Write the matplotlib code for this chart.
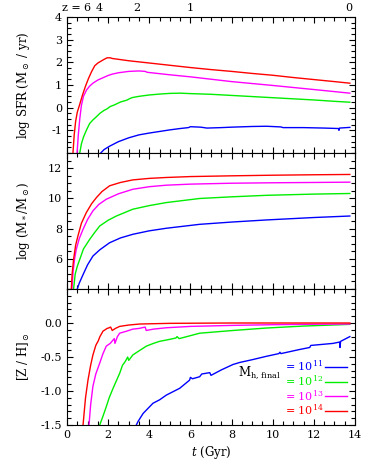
import matplotlib
matplotlib.use("Agg")
import matplotlib.pyplot as plt
from matplotlib.ticker import MultipleLocator
from matplotlib.lines import Line2D

plt.rcParams['font.family'] = ['DejaVu Serif']
plt.rcParams['mathtext.fontset'] = 'dejavuserif'
plt.rcParams['font.size'] = 8

# ---------------- data ----------------
halo_labels = ["11", "12", "13", "14"]
colors = ["#0000ff", "#00ee00", "#ff00ff", "#ff0000"]

# log SFR
sfr_t = {
    "11": [1.64, 1.8, 2.07, 2.5, 3.0, 3.5, 4.0, 4.5, 5.0, 5.5, 5.9, 6.0, 6.5, 6.8, 7.5, 8.0, 9.0, 9.7, 10.4, 10.5, 11.5, 12.5, 13.2, 13.22, 13.25, 13.75],
    "12": [0.62, 0.7, 0.8, 0.94, 1.1, 1.25, 1.43, 1.6, 1.8, 1.95, 2.1, 2.3, 2.6, 2.9, 3.1, 3.2, 3.5, 4.0, 4.5, 5.0, 5.5, 6, 7, 8, 9, 10, 11, 12, 13, 13.75],
    "13": [0.49, 0.55, 0.62, 0.7, 0.8, 0.95, 1.1, 1.26, 1.5, 1.75, 2.0, 2.2, 2.5, 3.0, 3.5, 3.8, 3.9, 5, 6, 8, 10, 12, 13.75],
    "14": [0.29, 0.35, 0.42, 0.5, 0.62, 0.75, 0.9, 1.05, 1.2, 1.35, 1.5, 1.65, 1.8, 1.95, 2.1, 2.2, 3, 4, 5, 6, 7, 8, 9, 10, 11, 12, 13, 13.75],
}
sfr_v = {
    "11": [-2.0, -1.85, -1.7, -1.5, -1.33, -1.2, -1.12, -1.05, -0.98, -0.92, -0.88, -0.84, -0.86, -0.9, -0.88, -0.86, -0.83, -0.82, -0.85, -0.88, -0.88, -0.9, -0.92, -1.0, -0.9, -0.87],
    "12": [-2.0, -1.6, -1.3, -1.0, -0.7, -0.55, -0.4, -0.25, -0.12, -0.05, 0.05, 0.12, 0.25, 0.33, 0.42, 0.45, 0.5, 0.56, 0.6, 0.63, 0.64, 0.62, 0.59, 0.54, 0.49, 0.44, 0.39, 0.34, 0.28, 0.24],
    "13": [-2.0, -1.2, -0.5, 0.1, 0.5, 0.78, 0.95, 1.08, 1.22, 1.32, 1.42, 1.48, 1.54, 1.6, 1.62, 1.6, 1.56, 1.45, 1.36, 1.15, 0.98, 0.8, 0.64],
    "14": [-2.0, -1.2, -0.6, -0.2, 0.15, 0.55, 0.95, 1.3, 1.6, 1.85, 1.97, 2.05, 2.13, 2.2, 2.2, 2.17, 2.07, 1.97, 1.87, 1.77, 1.68, 1.6, 1.51, 1.43, 1.33, 1.24, 1.15, 1.08],
}

# log stellar mass
ms_t = {
    "11": [0.5, 0.6, 0.78, 1.0, 1.26, 1.6, 2.07, 2.6, 3.2, 4.0, 4.83, 6.45, 8, 9.7, 12, 13.75],
    "12": [0.32, 0.4, 0.5, 0.62, 0.8, 1.1, 1.35, 1.59, 2.0, 2.4, 3.2, 4.0, 4.83, 6.45, 8, 9.7, 12, 13.75],
    "13": [0.24, 0.3, 0.37, 0.45, 0.6, 0.78, 1.0, 1.26, 1.55, 1.91, 2.5, 3.2, 4.0, 4.83, 6, 8, 10, 12, 13.75],
    "14": [0.21, 0.25, 0.32, 0.42, 0.53, 0.7, 0.94, 1.2, 1.43, 1.7, 2.07, 2.6, 3.2, 4.0, 4.83, 6, 8, 10, 12, 13.75],
}
ms_v = {
    "11": [4.0, 4.4, 4.95, 5.6, 6.18, 6.6, 7.06, 7.38, 7.62, 7.85, 8.02, 8.28, 8.43, 8.57, 8.73, 8.83],
    "12": [4.0, 5.0, 5.5, 5.96, 6.65, 7.28, 7.75, 8.17, 8.55, 8.83, 9.28, 9.52, 9.72, 9.99, 10.1, 10.2, 10.28, 10.32],
    "13": [4.0, 5.2, 6.0, 6.62, 7.35, 7.95, 8.6, 9.17, 9.6, 9.94, 10.3, 10.6, 10.77, 10.87, 10.94, 11.0, 11.03, 11.05, 11.07],
    "14": [4.0, 5.0, 5.96, 6.9, 7.5, 8.35, 9.06, 9.65, 10.05, 10.45, 10.83, 11.05, 11.22, 11.32, 11.38, 11.44, 11.49, 11.53, 11.56, 11.58],
}

# [Z/H]
zh_t = {
    "11": [3.37, 3.45, 3.7, 4.18, 4.5, 4.83, 5.48, 5.8, 5.96, 6.0, 6.1, 6.45, 6.55, 6.94, 7.0, 7.5, 8.07, 8.4, 9.0, 9.69, 10.3, 10.35, 10.4, 11.3, 11.8, 11.85, 12.93, 13.25, 13.27, 13.3, 13.75],
    "12": [1.59, 1.75, 1.91, 2.05, 2.24, 2.4, 2.56, 2.7, 2.8, 2.88, 2.95, 3.0, 3.2, 3.5, 3.86, 4.2, 4.5, 5.0, 5.3, 5.35, 5.45, 6.45, 8.07, 9.69, 11.5, 13.75],
    "13": [1.07, 1.15, 1.26, 1.4, 1.59, 1.75, 1.91, 2.1, 2.24, 2.3, 2.33, 2.45, 2.56, 2.9, 3.2, 3.5, 3.8, 3.85, 4.2, 4.83, 6, 8.07, 10, 12, 13.75],
    "14": [0.78, 0.9, 1.02, 1.15, 1.26, 1.4, 1.45, 1.51, 1.6, 1.75, 1.85, 1.95, 2.05, 2.12, 2.2, 2.35, 2.56, 3.0, 3.53, 5, 8, 13.75],
}
zh_v = {
    "11": [-1.5, -1.45, -1.33, -1.18, -1.13, -1.06, -0.96, -0.88, -0.84, -0.8, -0.82, -0.79, -0.75, -0.73, -0.77, -0.69, -0.61, -0.58, -0.54, -0.49, -0.45, -0.43, -0.45, -0.39, -0.36, -0.33, -0.3, -0.28, -0.36, -0.27, -0.2],
    "12": [-1.5, -1.37, -1.23, -1.1, -0.96, -0.85, -0.74, -0.62, -0.58, -0.54, -0.5, -0.55, -0.47, -0.41, -0.34, -0.3, -0.27, -0.24, -0.22, -0.2, -0.23, -0.15, -0.11, -0.074, -0.045, -0.02],
    "13": [-1.5, -1.2, -0.93, -0.75, -0.59, -0.45, -0.34, -0.3, -0.25, -0.23, -0.3, -0.2, -0.15, -0.12, -0.09, -0.08, -0.06, -0.11, -0.09, -0.07, -0.05, -0.035, -0.025, -0.018, -0.015],
    "14": [-1.5, -1.1, -0.84, -0.62, -0.47, -0.33, -0.3, -0.27, -0.2, -0.12, -0.1, -0.08, -0.07, -0.06, -0.11, -0.08, -0.05, -0.03, -0.015, -0.005, 0.0, 0.0],
}

z_labels = ["6", "4", "2", "1", "0"]
z_times = [0.96, 1.56, 3.39, 6.0, 13.7]

# ---------------- figure ----------------
fig = plt.figure(figsize=(3.74, 4.67), dpi=100)
L, R = 67 / 374, 355 / 374
top = 1 - 17 / 467
h = 136 / 467
axes = [fig.add_axes([L, top - (i + 1) * h, R - L, h]) for i in range(3)]

datasets = [(sfr_t, sfr_v), (ms_t, ms_v), (zh_t, zh_v)]
ylims = [(-2, 4), (4, 13), (-1.5, 0.5)]
ymaj = [1, 2, 0.5]
ymin = [0.25, 0.5, 0.1]
ylabels = [r"log SFR (M$_\odot$ / yr)", r"log (M$_*$/M$_\odot$)", r"[Z / H]$_\odot$"]

for ax, (dt, dv), yl, ma, mi, lab in zip(axes, datasets, ylims, ymaj, ymin, ylabels):
    for key, c in zip(halo_labels, colors):
        ax.plot(dt[key], dv[key], color=c, lw=1.0)
    ax.set_xlim(0, 14)
    ax.set_ylim(*yl)
    ax.xaxis.set_major_locator(MultipleLocator(2))
    ax.xaxis.set_minor_locator(MultipleLocator(0.5))
    ax.yaxis.set_major_locator(MultipleLocator(ma))
    ax.yaxis.set_minor_locator(MultipleLocator(mi))
    ax.tick_params(which='both', direction='in', top=True, right=True, width=0.8)
    ax.tick_params(which='major', length=4.5)
    ax.tick_params(which='minor', length=2.6)
    for s in ax.spines.values():
        s.set_linewidth(0.8)
    ax.set_ylabel(lab, fontsize=8.5)
    ax.yaxis.set_label_coords(-0.122, 0.5)

# tick label formats
axes[0].set_yticks([-1, 0, 1, 2, 3, 4])
axes[0].set_yticklabels(["-1", "0", "1", "2", "3", "4"])
axes[1].set_yticks([6, 8, 10, 12])
axes[2].set_yticks([-1.5, -1.0, -0.5, 0.0])
axes[2].set_yticklabels(["-1.5", "-1.0", "-0.5", "0.0"])
for ax in axes[:2]:
    ax.tick_params(labelbottom=False)
axes[2].set_xlabel(r"$t$ (Gyr)", labelpad=3, fontsize=8.5)

# redshift axis
sec = axes[0].secondary_xaxis('top')
sec.set_xticks(z_times)
sec.set_xticklabels(z_labels)
sec.tick_params(length=0, pad=3)
sec.spines['top'].set_visible(False)
ztxt = axes[0].text(0.65, 1.0, "z =", transform=axes[0].get_xaxis_transform(),
                    ha='right', va='bottom', fontsize=8)
fig.canvas.draw()
bb = sec.get_xticklabels()[0].get_window_extent()
inv = axes[0].transAxes.inverted()
ztxt.set_y(inv.transform((0, bb.y0))[1])

# legend
handles = [Line2D([], [], color=c, lw=1.0) for c in colors]
labels = ["= $10^{%s}$" % k for k in halo_labels]
leg = axes[2].legend(handles, labels, loc='lower right', frameon=False,
                     markerfirst=False, labelcolor='linecolor', handlelength=2.0,
                     handletextpad=0.15, labelspacing=0.0, borderaxespad=0.3,
                     fontsize=8)
axes[2].text(0.745, 0.365, r"M$_{\rm h,\,final}$", transform=axes[2].transAxes,
             ha='right', va='baseline', fontsize=8.5)

fig.savefig("out.png", dpi=100)
